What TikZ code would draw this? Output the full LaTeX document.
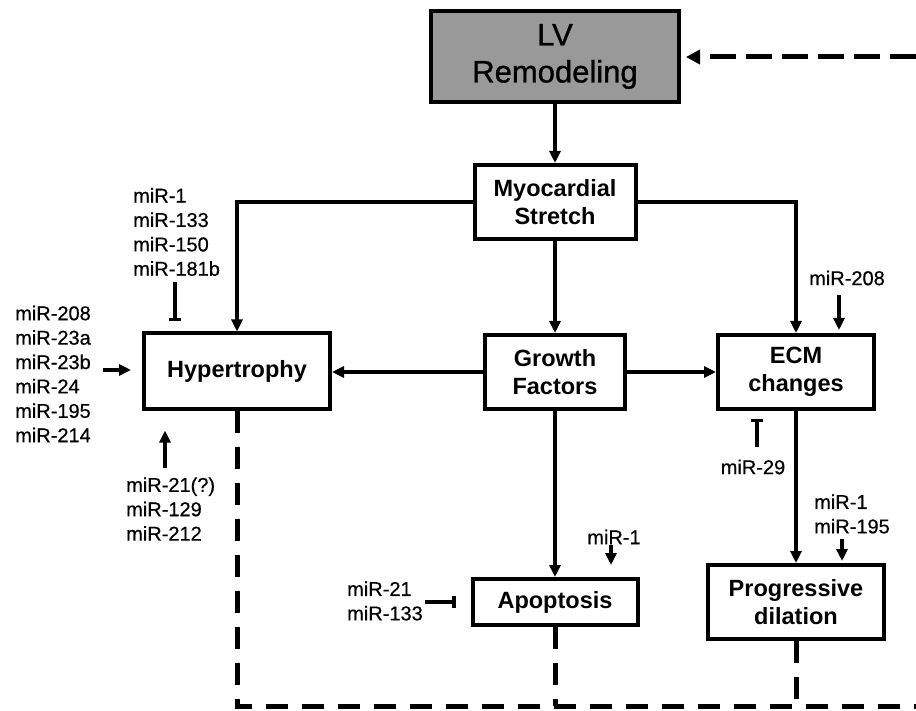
\documentclass[tikz,border=0pt]{standalone}
\usepackage{fontspec}
\setmainfont{Liberation Sans}
\newfontfamily\mirfont[FakeBold=0.5]{Liberation Sans}
\newfontfamily\lvfont[FakeBold=1]{Liberation Sans}
\usetikzlibrary{arrows.meta}
\definecolor{lvgray}{HTML}{999999}
\begin{document}
\begin{tikzpicture}[x=1pt,y=-1pt,
  box/.style={draw, line width=4pt, inner sep=0pt, align=center,
    font=\fontsize{23.5}{28.5}\selectfont\bfseries},
  mir/.style={inner sep=0pt, align=left, font=\mirfont\fontsize{20}{24.4}\selectfont},
  arr/.style={line width=3.4pt, -{Triangle[length=12pt,width=11pt]}},
  inh/.style={line width=3.4pt, -{Bar[width=12pt]}},
  dsh/.style={line width=5pt, dash pattern=on 22pt off 14pt}
]
\useasboundingbox (0,0) rectangle (916,711);

% main boxes
\node[box, fill=lvgray, minimum width=248pt, minimum height=91pt,
  font=\lvfont\fontsize{31}{37}\selectfont] (lv) at (555,56.5) {LV\\Remodeling};
\node[box, minimum width=161pt, minimum height=74pt] (myo) at (555,202) {Myocardial\\Stretch};
\node[box, minimum width=186pt, minimum height=75pt] (hyp) at (237,371) {Hypertrophy};
\node[box, minimum width=140pt, minimum height=74pt] (gf) at (555,372) {Growth\\Factors};
\node[box, minimum width=156pt, minimum height=74pt] (ecm) at (796,372) {ECM\\changes};
\node[box, minimum width=165pt, minimum height=46pt] (apo) at (555,602) {Apoptosis};
\node[box, minimum width=176pt, minimum height=74pt] (prog) at (796,602) {Progressive\\dilation};

% miR labels
\node[mir, anchor=west] (mtop) at (133,232) {miR-1\\miR-133\\miR-150\\miR-181b};
\node[mir, anchor=west] (mleft) at (15,374) {miR-208\\miR-23a\\miR-23b\\miR-24\\miR-195\\miR-214};
\node[mir, anchor=west] (mbot) at (126,509) {miR-21(?)\\miR-129\\miR-212};
\node[mir] (m208) at (847,278) {miR-208};
\node[mir] (m29) at (753,467) {miR-29};
\node[mir, anchor=west] (m1b) at (814,514) {miR-1\\miR-195};
\node[mir] (m1a) at (614,537) {miR-1};
\node[mir, anchor=west] (m21) at (347,601) {miR-21\\miR-133};

% main connectors
\draw[arr] (lv.south) -- (myo.north);
\draw[arr] (myo.west) -| (hyp.north);
\draw[arr] (myo.east) -| (ecm.north);
\draw[arr] (myo.south) -- (gf.north);
\draw[arr] (gf.west) -- (gf.west -| hyp.east);
\draw[arr] (gf.east) -- (gf.east -| ecm.west);
\draw[arr] (gf.south) -- (apo.north);
\draw[arr] (ecm.south) -- (prog.north);

% miR connectors
\coordinate (c1) at (175,282);
\draw[inh, shorten >=10pt] (c1) -- (c1 |- hyp.north);
\coordinate (c2) at (103,370);
\draw[arr, shorten >=11pt] (c2) -- (c2 -| hyp.west);
\coordinate (c3) at (165,468);
\draw[arr, shorten >=20pt] (c3) -- (c3 |- hyp.south);
\coordinate (c4) at (839,295);
\draw[arr, shorten >=3pt] (c4) -- (c4 |- ecm.north);
\coordinate (c5) at (757,447);
\draw[inh, shorten >=8pt] (c5) -- (c5 |- ecm.south);
\coordinate (c6) at (842,539);
\draw[arr, shorten >=2pt] (c6) -- (c6 |- prog.north);
\coordinate (c7) at (611,545);
\draw[arr, shorten >=12pt] (c7) -- (c7 |- apo.north);
\coordinate (c8) at (425,602);
\draw[inh, shorten >=15pt] (c8) -- (c8 -| apo.west);

% feedback dashed lines
\coordinate (br) at (916,706);
\coordinate (tr) at (916,57);
\draw[dsh] (hyp.south) |- (br);
\draw[dsh] (apo.south) -- (apo.south |- br);
\draw[dsh] (prog.south) -- (prog.south |- br);
\draw[line width=5pt, dash pattern=on 26pt off 10pt, shorten >=5pt,
  -{Triangle[length=14pt,width=14pt]}] (tr) -- (tr -| lv.east);
\end{tikzpicture}
\end{document}
